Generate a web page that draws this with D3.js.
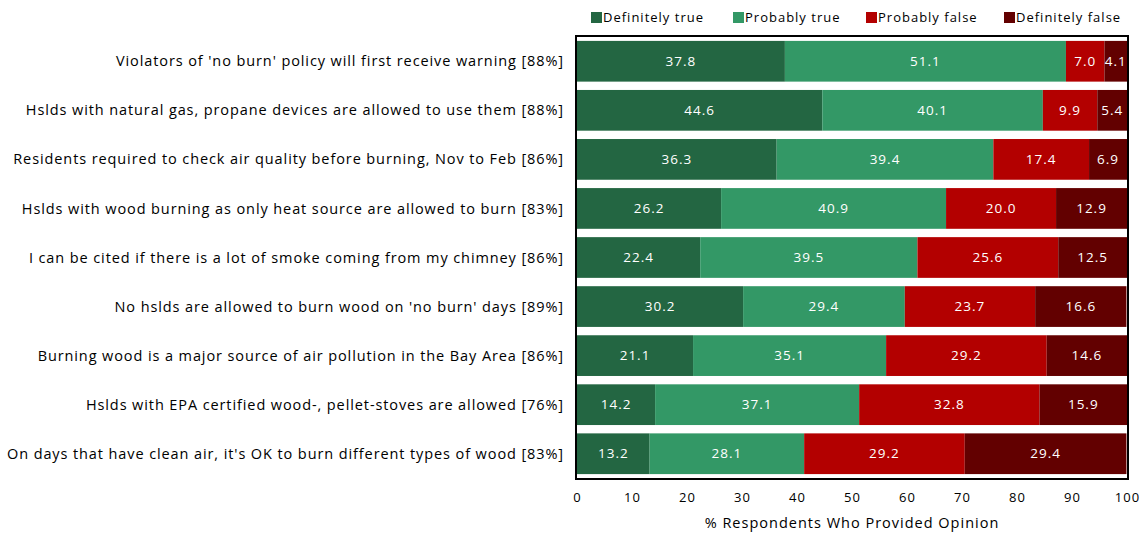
<!DOCTYPE html>
<html><head><meta charset="utf-8">
<script src="https://cdn.jsdelivr.net/npm/d3@7"></script>
<style>body{margin:0;background:#fff}svg{display:block}text{font-family:"Open Sans",sans-serif}</style>
</head><body><svg id="c" width="1142" height="534"></svg>
<script>
const categories = [
  "Violators of 'no burn' policy will first receive warning [88%]",
  "Hslds with natural gas, propane devices are allowed to use them [88%]",
  "Residents required to check air quality before burning, Nov to Feb [86%]",
  "Hslds with wood burning as only heat source are allowed to burn [83%]",
  "I can be cited if there is a lot of smoke coming from my chimney [86%]",
  "No hslds are allowed to burn wood on 'no burn' days [89%]",
  "Burning wood is a major source of air pollution in the Bay Area [86%]",
  "Hslds with EPA certified wood-, pellet-stoves are allowed [76%]",
  "On days that have clean air, it's OK to burn different types of wood [83%]"
];
const seriesNames = ["Definitely true","Probably true","Probably false","Definitely false"];
const definitelyTrue = [37.8,44.6,36.3,26.2,22.4,30.2,21.1,14.2,13.2];
const probablyTrue   = [51.1,40.1,39.4,40.9,39.5,29.4,35.1,37.1,28.1];
const probablyFalse  = [7.0,9.9,17.4,20.0,25.6,23.7,29.2,32.8,29.2];
const definitelyFalse= [4.1,5.4,6.9,12.9,12.5,16.6,14.6,15.9,29.4];
const xTicks = [0,10,20,30,40,50,60,70,80,90,100];
const axisTitle = "% Respondents Who Provided Opinion";
const colors = ["#236642","#339866","#b30000","#620000"];

const svg = d3.select("#c");
const L = 577, R = 1127, T = 36, B = 479;
const x = d3.scaleLinear().domain([0,100]).range([L,R]);
const y = d3.scaleBand().domain(categories).range([T,B]).paddingInner(0.17).paddingOuter(0.1);

const rows = categories.map((c,i)=>({cat:c, vals:[definitelyTrue[i],probablyTrue[i],probablyFalse[i],definitelyFalse[i]]}));
const stack = d3.stack().keys([0,1,2,3]).value((d,k)=>d.vals[k]);
const layers = stack(rows);

const g = svg.append("g");
layers.forEach((layer,k)=>{
  g.selectAll(null).data(layer).enter().append("rect")
    .attr("x",d=>x(d[0])).attr("width",d=>x(d[1])-x(d[0]))
    .attr("y",d=>y(d.data.cat)).attr("height",y.bandwidth())
    .attr("fill",colors[k]);
  g.selectAll(null).data(layer).enter().append("text")
    .attr("x",d=>(x(d[0])+x(d[1]))/2)
    .attr("y",d=>y(d.data.cat)+y.bandwidth()/2)
    .attr("dy","0.35em").attr("text-anchor","middle")
    .attr("fill","#fff").attr("font-size",13.5).attr("letter-spacing",1)
    .text(d=>d.data.vals[k].toFixed(1));
});

svg.append("rect").attr("x",L-1).attr("y",T).attr("width",R-L+2).attr("height",B-T)
  .attr("fill","none").attr("stroke","#000").attr("stroke-width",2);

// category labels
svg.append("g").selectAll("text").data(categories).enter().append("text")
  .attr("x",L-13).attr("y",d=>y(d)+y.bandwidth()/2).attr("dy","0.35em")
  .attr("text-anchor","end").attr("font-size",14.5).attr("letter-spacing",0.9).attr("fill","#000")
  .text(d=>d);

// x axis
const ax = svg.append("g").attr("transform",`translate(0,${B+10})`)
  .call(d3.axisBottom(x).tickValues(xTicks).tickSize(0).tickPadding(4));
ax.select(".domain").remove();
ax.selectAll("text").attr("font-size",13).attr("font-family","'Open Sans',sans-serif").attr("fill","#000").attr("letter-spacing",1);

svg.append("text").attr("x",(L+R)/2).attr("y",528).attr("text-anchor","middle")
  .attr("font-size",14.5).attr("fill","#000").attr("letter-spacing",1).text(axisTitle);

// legend
const legX = [591,733,866,1004];
const leg = svg.append("g");
seriesNames.forEach((n,i)=>{
  leg.append("rect").attr("x",legX[i]).attr("y",12).attr("width",11).attr("height",11).attr("fill",colors[i]);
  leg.append("text").attr("x",legX[i]+12).attr("y",17).attr("dy","0.35em")
    .attr("font-size",13).attr("letter-spacing",1).attr("fill","#000").text(n);
});
</script></body></html>
